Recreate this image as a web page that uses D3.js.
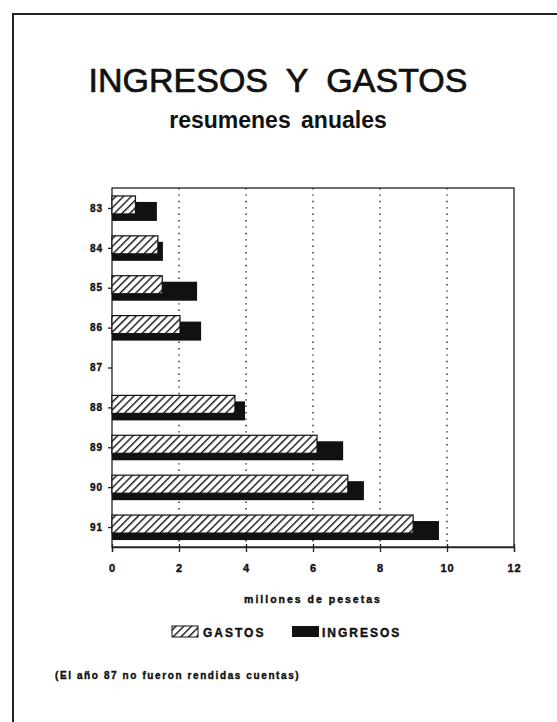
<!DOCTYPE html>
<html>
<head>
<meta charset="utf-8">
<script src="https://cdn.jsdelivr.net/npm/d3@7"></script>
<style>
  body { margin: 0; background: #fff; }
  svg { display: block; }
  text { font-family: "Liberation Sans", Arial, sans-serif; fill: #111; }
</style>
</head>
<body>
<div id="chart"></div>
<script>
// chart data (millions of pesetas), 87 has no accounts
var years = ["83", "84", "85", "86", "87", "88", "89", "90", "91"];
var gastos = [0.7, 1.37, 1.5, 2.03, null, 3.67, 6.12, 7.04, 8.99];
var ingresos = [1.34, 1.52, 2.54, 2.66, null, 3.97, 6.9, 7.52, 9.76];
var xTicks = [0, 2, 4, 6, 8, 10, 12];
var gridTicks = [2, 4, 6, 8, 10];

var width = 557, height = 722;
var plot = { left: 112, right: 514, top: 188, bottom: 547 };

var svg = d3.select("#chart").append("svg")
    .attr("width", width)
    .attr("height", height);

// hatch for gastos
var defs = svg.append("defs");
var pat = defs.append("pattern")
    .attr("id", "hatch")
    .attr("patternUnits", "userSpaceOnUse")
    .attr("width", 5.5)
    .attr("height", 5.5)
    .attr("patternTransform", "rotate(45)");
pat.append("rect").attr("width", 5.5).attr("height", 5.5).attr("fill", "#fff");
pat.append("line")
    .attr("x1", 0).attr("y1", 0).attr("x2", 0).attr("y2", 5.5)
    .attr("stroke", "#111").attr("stroke-width", 2.8);

// page frame (left + top edge)
svg.append("path")
    .attr("d", "M13,722 L13,14 L557,14")
    .attr("fill", "none")
    .attr("stroke", "#222")
    .attr("stroke-width", 2);

// titles
svg.append("text")
    .attr("x", 278).attr("y", 92)
    .attr("text-anchor", "middle")
    .style("font-size", "34px")
    .style("word-spacing", "9px")
    .style("stroke", "#111")
    .style("stroke-width", 0.7)
    .text("INGRESOS Y GASTOS");

svg.append("text")
    .attr("x", 278).attr("y", 128)
    .attr("text-anchor", "middle")
    .style("font-size", "23px")
    .style("font-weight", "bold")
    .style("word-spacing", "4px")
    .text("resumenes anuales");

var x = d3.scaleLinear().domain([0, 12]).range([plot.left, plot.right]);
var y = d3.scalePoint().domain(years).range([plot.top, plot.bottom]).padding(0.5);

// plot frame
svg.append("rect")
    .attr("x", plot.left).attr("y", plot.top)
    .attr("width", plot.right - plot.left)
    .attr("height", plot.bottom - plot.top)
    .attr("fill", "none")
    .attr("stroke", "#222")
    .attr("stroke-width", 1.3);

// dotted grid
svg.append("g").selectAll("line")
    .data(gridTicks)
    .join("line")
    .attr("x1", function (d) { return x(d); })
    .attr("x2", function (d) { return x(d); })
    .attr("y1", plot.top)
    .attr("y2", plot.bottom)
    .attr("stroke", "#222")
    .attr("stroke-width", 1.4)
    .attr("stroke-dasharray", "1.4,5");

// ingresos behind, gastos on top
var rows = years.map(function (yr, i) {
    return { year: yr, g: gastos[i], ing: ingresos[i] };
}).filter(function (d) { return d.g != null; });

svg.append("g").selectAll("rect")
    .data(rows)
    .join("rect")
    .attr("x", x(0))
    .attr("y", function (d) { return y(d.year) - 6; })
    .attr("width", function (d) { return x(d.ing) - x(0); })
    .attr("height", 19)
    .attr("fill", "#111");

svg.append("g").selectAll("rect")
    .data(rows)
    .join("rect")
    .attr("x", x(0))
    .attr("y", function (d) { return y(d.year) - 12; })
    .attr("width", function (d) { return x(d.g) - x(0); })
    .attr("height", 18)
    .attr("fill", "url(#hatch)")
    .attr("stroke", "#111")
    .attr("stroke-width", 1.2);

// bold, wide-set small text as in the scan
var boldText = function (sel, size, spacing) {
    sel.style("font-size", size)
        .style("font-weight", "bold")
        .style("font-family", "'Liberation Sans', Arial, sans-serif")
        .style("letter-spacing", spacing || "1px")
        .style("stroke", "#111")
        .style("stroke-width", 0.4);
};

var xAxis = svg.append("g")
    .attr("transform", "translate(0," + plot.bottom + ")")
    .call(d3.axisBottom(x).tickValues(xTicks).tickSize(5).tickPadding(12));
xAxis.select(".domain").attr("stroke", "#222").attr("stroke-width", 1.3);
xAxis.selectAll(".tick line").attr("stroke", "#222").attr("y1", -3).attr("stroke-width", 1.3);
boldText(xAxis.selectAll("text"), "11px");

var yAxis = svg.append("g")
    .attr("transform", "translate(" + plot.left + ",0)")
    .call(d3.axisLeft(y).tickSize(4).tickPadding(5));
yAxis.select(".domain").remove();
yAxis.selectAll(".tick line").attr("stroke", "#222").attr("stroke-width", 1.3);
boldText(yAxis.selectAll("text"), "10px");

boldText(svg.append("text")
    .attr("x", 313).attr("y", 603)
    .attr("text-anchor", "middle")
    .text("millones de pesetas"), "10.5px", "2px");

// legend
var legend = svg.append("g");
legend.append("rect")
    .attr("x", 172).attr("y", 626).attr("width", 26).attr("height", 11)
    .attr("fill", "url(#hatch)").attr("stroke", "#111").attr("stroke-width", 1);
boldText(legend.append("text")
    .attr("x", 203).attr("y", 637)
    .text("GASTOS"), "12px", "2px");
legend.append("rect")
    .attr("x", 292).attr("y", 626).attr("width", 27).attr("height", 11)
    .attr("fill", "#111");
boldText(legend.append("text")
    .attr("x", 322).attr("y", 637)
    .text("INGRESOS"), "12px", "2px");

boldText(svg.append("text")
    .attr("x", 55).attr("y", 679)
    .text("(El año 87 no fueron rendidas cuentas)"), "10px", "1.6px");
</script>
</body>
</html>
